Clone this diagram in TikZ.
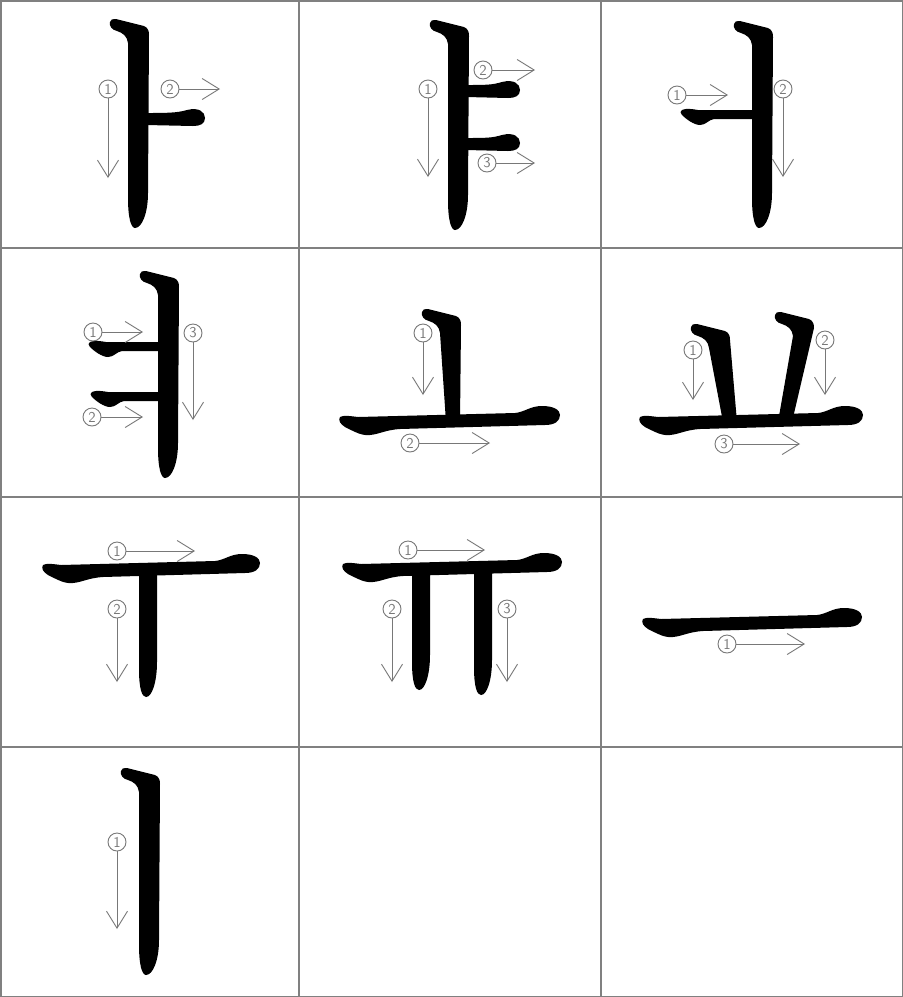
\documentclass[tikz,border=0pt]{standalone}
\usetikzlibrary{arrows.meta}
\definecolor{ink}{RGB}{0,0,0}
\definecolor{gridgray}{RGB}{128,128,128}
\definecolor{guide}{RGB}{120,120,120}
\tikzset{
    circnum/.style={circle, draw=guide, line width=0.9pt, inner sep=0pt, minimum size=18pt,
        text=guide, font=\sffamily\fontsize{15}{15}\selectfont},
    strokearrow/.style={guide, line width=0.9pt, -{Straight Barb[length=17pt,width=21pt]}},
    gridline/.style={gridgray, line width=1.5pt}
}
\newcommand{\vstroke}[3]{\fill[ink,shift={(#1,#2)}] (-38,-3) .. controls (-39,1) and (-36,5) .. (-31,6)
    .. controls (-25,8) and (-21,11) .. (-20,18) -- (-20,#3-30)
    .. controls (-20,#3-10) and (-17,#3) .. (-13,#3) .. controls (-6,#3) and (0,#3-15) .. (0,#3-35)
    -- (1,10) .. controls (1,3) and (-2,1) .. (-8,0) -- (-32,-6) .. controls (-35,-6.5) and (-38,-5.5) .. (-38,-3) -- cycle;}
\newcommand{\vpost}[4]{\fill[ink,shift={(#1,#2)}] (-38,-3) .. controls (-39,1) and (-36,5) .. (-31,6)
    .. controls (-25,8) and (-21,11) .. (-20,18) -- (#3-14,#4-#2) -- (#3,#4-#2)
    -- (1,10) .. controls (1,3) and (-2,1) .. (-8,0) -- (-32,-6) .. controls (-35,-6.5) and (-38,-5.5) .. (-38,-3) -- cycle;}
\newcommand{\vdrop}[3]{\fill[ink] (#1-18,#2) -- (#1-18,#3-28) .. controls (#1-18,#3-8) and (#1-15,#3) .. (#1-11,#3)
    .. controls (#1-5,#3) and (#1,#3-15) .. (#1,#3-35) -- (#1,#2) -- cycle;}
\newcommand{\hbranch}[3]{\fill[ink] (#1,#2-5) .. controls (#1+20,#2-5) and (#3-28,#2-5) .. (#3-18,#2-8)
    .. controls (#3-6,#2-11) and (#3,#2-6) .. (#3,#2) .. controls (#3,#2+6) and (#3-5,#2+8) .. (#3-12,#2+8)
    -- (#1,#2+7) -- cycle;}
\newcommand{\lbranch}[3]{\fill[ink,shift={(#1,#2)}] (0,0) .. controls (4,-2) and (10,-1) .. (16,0)
    -- (#3-#1,0) -- (#3-#1,9) -- (32,9) .. controls (26,10) and (24,15) .. (18,15)
    .. controls (12,15) and (4,9) .. (0,5) .. controls (-2,3) and (-2,1) .. (0,0) -- cycle;}
\newcommand{\hstroke}[3]{\fill[ink,shift={(#1,#2)}] (0,0) .. controls (3,-2) and (10,-1) .. (18,0)
    -- (#3-#1-45,-4) .. controls (#3-#1-35,-5) and (#3-#1-30,-11) .. (#3-#1-18,-11)
    .. controls (#3-#1-6,-11) and (#3-#1,-7) .. (#3-#1,-2) .. controls (#3-#1,4) and (#3-#1-5,8) .. (#3-#1-15,8)
    -- (60,12) .. controls (45,13) and (40,17) .. (30,18) .. controls (22,19) and (15,15) .. (5,10)
    .. controls (0,7) and (-2,3) .. (0,0) -- cycle;}
\newcommand{\order}[4]{\node[circnum] (#1) at (#2) {#3}; \coordinate (#1e) at (#4); \draw[strokearrow] (#1) -- (#1e);}
\begin{document}
\begin{tikzpicture}[x=1pt,y=-1pt]
    \useasboundingbox (0,0) rectangle (903,997);
    \fill[white] (0,0) rectangle (903,997);

    \begin{scope}
        \vstroke{148}{25}{203}
        \hbranch{146}{118}{205}
        \order{a1}{108,89}{1}{108,178}
        \order{a2}{170,89}{2}{220,89}
    \end{scope}

    \begin{scope}[shift={(300,0)}]
        \vstroke{168}{26}{204}
        \hbranch{166}{90}{220}
        \hbranch{166}{143}{220}
        \order{b1}{128,89}{1}{128,177}
        \order{b2}{183,70}{2}{235,70}
        \order{b3}{187,163}{3}{235,163}
    \end{scope}

    \begin{scope}[shift={(600,0)}]
        \vstroke{172}{27}{201}
        \lbranch{82}{110}{155}
        \order{c1}{77,95}{1}{128,95}
        \order{c2}{183,89}{2}{183,177}
    \end{scope}

    \begin{scope}[shift={(0,250)}]
        \vstroke{178}{27}{201}
        \lbranch{90}{92}{162}
        \lbranch{92}{142}{162}
        \order{d1}{93,82}{1}{143,82}
        \order{d2}{92,167}{2}{143,167}
        \order{d3}{193,83}{3}{193,170}
    \end{scope}

    \begin{scope}[shift={(300,250)}]
        \vpost{160}{65}{0}{172}
        \hstroke{40}{167}{260}
        \order{e1}{123,83}{1}{123,145}
        \order{e2}{110,193}{2}{190,193}
    \end{scope}

    \begin{scope}[shift={(600,250)}]
        \vpost{129}{80}{8}{172}
        \vpost{213}{68}{-21}{172}
        \hstroke{40}{167}{263}
        \order{f1}{93,100}{1}{93,150}
        \order{f2}{225,90}{2}{225,145}
        \order{f3}{124,194}{3}{200,194}
    \end{scope}

    \begin{scope}[shift={(0,497)}]
        \hstroke{43}{68}{260}
        \vdrop{157}{70}{200}
        \order{g1}{117,54}{1}{195,54}
        \order{g2}{117,112}{2}{117,185}
    \end{scope}

    \begin{scope}[shift={(300,497)}]
        \hstroke{43}{67}{262}
        \vdrop{130}{70}{193}
        \vdrop{192}{70}{198}
        \order{h1}{108,53}{1}{185,53}
        \order{h2}{92,112}{2}{92,185}
        \order{h3}{207,112}{3}{207,185}
    \end{scope}

    \begin{scope}[shift={(600,497)}]
        \hstroke{43}{122}{262}
        \order{i1}{127,147}{1}{205,147}
    \end{scope}

    \begin{scope}[shift={(0,747)}]
        \vstroke{159}{27}{201}
        \order{j1}{117,95}{1}{117,182}
    \end{scope}

    \draw[gridline] (0.75,0.75) rectangle (902.25,996.25);
    \draw[gridline] (299,0) -- (299,997);
    \draw[gridline] (601,0) -- (601,997);
    \draw[gridline] (0,248) -- (903,248);
    \draw[gridline] (0,497) -- (903,497);
    \draw[gridline] (0,747) -- (903,747);
\end{tikzpicture}
\end{document}
